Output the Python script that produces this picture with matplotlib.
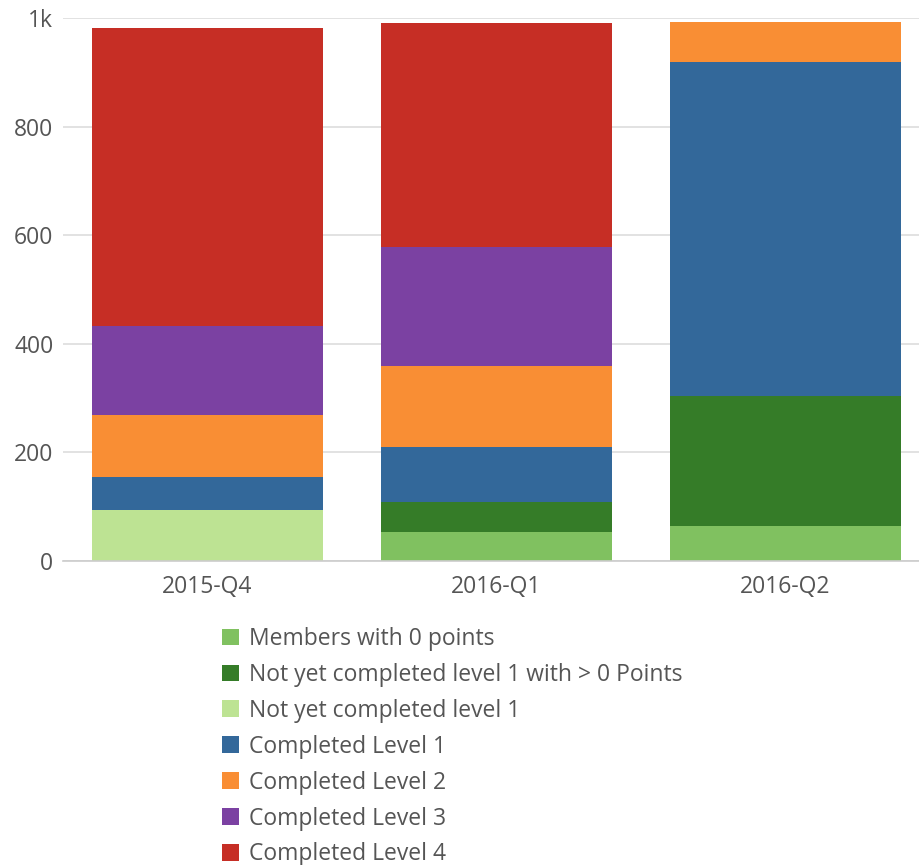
import matplotlib
matplotlib.use("Agg")
import matplotlib.pyplot as plt
import numpy as np

plt.rcParams['font.family'] = ['Open Sans', 'DejaVu Sans']

quarters = ["2015-Q4", "2016-Q1", "2016-Q2"]

series_names = [
    "Members with 0 points",
    "Not yet completed level 1 with > 0 Points",
    "Not yet completed level 1",
    "Completed Level 1",
    "Completed Level 2",
    "Completed Level 3",
    "Completed Level 4",
]

members_zero = [0, 53, 65]
not_l1_points = [0, 56, 239]
not_l1 = [94, 0, 0]
level1 = [61, 101, 615]
level2 = [113, 150, 73]
level3 = [165, 219, 0]
level4 = [548, 412, 0]

colors = ["#80c160", "#357c28", "#bde393", "#33689a", "#f98e34", "#7b41a2", "#c62e25"]

values = [members_zero, not_l1_points, not_l1, level1, level2, level3, level4]

FS = 16.5

fig = plt.figure(figsize=(9.2, 8.65), dpi=100)
ax = fig.add_axes([63 / 920, 1 - 561 / 865, 867 / 920, (561 - 18) / 865])

x = np.arange(len(quarters))
bottom = np.zeros(len(quarters))
handles = []
for name, vals, col in zip(series_names, values, colors):
    vals = np.array(vals, dtype=float)
    bars = ax.bar(x, vals, width=0.8, bottom=bottom, color=col, label=name,
                  linewidth=0, zorder=3)
    handles.append(bars)
    bottom += vals

ax.set_xlim(-0.5, len(quarters) - 0.5)
ax.set_ylim(0, 1000)
ax.set_yticks([0, 200, 400, 600, 800, 1000])
ax.set_yticklabels(["0", "200", "400", "600", "800", "1k"])
ax.set_xticks(x)
ax.set_xticklabels(quarters)

ax.grid(axis='y', color='#dddddd', linewidth=1.2, zorder=0)
ax.set_axisbelow(True)
for side in ['top', 'right', 'left']:
    ax.spines[side].set_visible(False)
ax.spines['bottom'].set_color('#cccccc')
ax.spines['bottom'].set_linewidth(1.2)
ax.spines['bottom'].set_zorder(4)
ax.tick_params(axis='both', length=0, labelsize=FS, labelcolor='#555555')
ax.tick_params(axis='x', pad=10)
ax.tick_params(axis='y', pad=7)

leg = fig.legend(
    handles=handles, labels=series_names,
    loc='upper left', bbox_to_anchor=(222 / 920, 1 - 627 / 865),
    frameon=False, fontsize=FS, handlelength=0.75, handleheight=0.75,
    handletextpad=0.45, labelspacing=0.52, borderaxespad=0, borderpad=0,
)
for t in leg.get_texts():
    t.set_color('#555555')

fig.savefig("out.png", dpi=100, facecolor='white')
